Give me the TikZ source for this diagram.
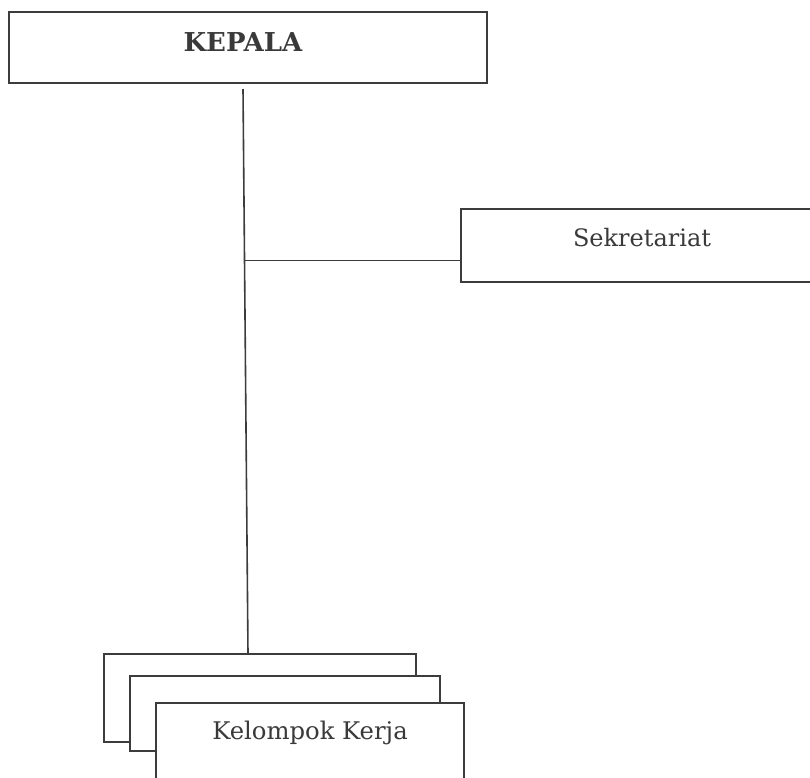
\documentclass[tikz,border=0pt]{standalone}
\usepackage{fontspec}
\setmainfont{DejaVu Serif}
\begin{document}
\begin{tikzpicture}[x=1pt,y=-1pt,
  box/.style={draw=linegray,line width=1.9pt,fill=white,inner sep=0pt},
  lbl/.style={text=textgray,anchor=base,inner sep=0pt},
  conn/.style={draw=linegray,line width=1.6pt}]
\definecolor{linegray}{HTML}{3C3C3C}
\definecolor{textgray}{HTML}{3A3A3A}
\useasboundingbox (0,0) rectangle (810,777);
\clip (0,0) rectangle (810,777);
\fill[white] (0,0) rectangle (810,777);
% KEPALA
\node[box,minimum width=478pt,minimum height=71pt] (kepala) at (248.3,47.2) {};
\node[lbl,font=\fontsize{26}{31}\selectfont\bfseries] (kepalat) at (243,51.5) {KEPALA};
% Sekretariat
\node[box,minimum width=380pt,minimum height=72.4pt] (sek) at (650.7,245.5) {};
\node[lbl,font=\fontsize{24}{29}\selectfont] (sekt) at (642,246.5) {Sekretariat};
% Kelompok Kerja stack
\node[box,minimum width=312pt,minimum height=88pt] (kk1) at (260,698) {};
\node[box,minimum width=310pt,minimum height=75pt] (kk2) at (285.3,713.5) {};
\node[box,minimum width=308pt,minimum height=100pt] (kk3) at (310,752.7) {};
\node[lbl,font=\fontsize{24.3}{29}\selectfont] (kkt) at (310,739.5) {Kelompok Kerja};
% connectors
\coordinate (vtop) at (243,89);
\coordinate (vbot) at (248,654);
\coordinate (junc) at (244.4,260.5);
\draw[conn] (vtop) -- (vbot);
\draw[conn] (junc) -- (junc -| sek.west);
\end{tikzpicture}
\end{document}
